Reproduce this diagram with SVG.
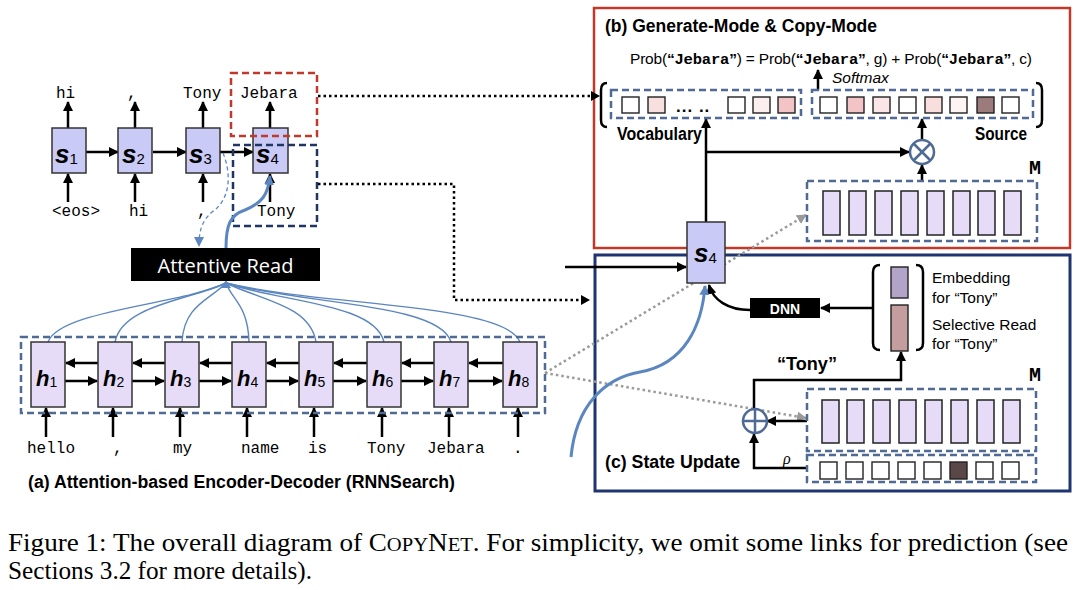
<svg xmlns="http://www.w3.org/2000/svg" width="1080" height="590" viewBox="0 0 1080 590">
<defs>
<marker id="ah" viewBox="0 0 10 10" refX="9" refY="5" markerWidth="10" markerHeight="10" markerUnits="userSpaceOnUse" orient="auto"><path d="M0,0 L10,5 L0,10 z" fill="#000"/></marker>
<marker id="ahb" viewBox="0 0 10 10" refX="9" refY="5" markerWidth="10" markerHeight="10" markerUnits="userSpaceOnUse" orient="auto"><path d="M0,0 L10,5 L0,10 z" fill="#5b86c0"/></marker>
<marker id="ahg" viewBox="0 0 10 10" refX="9" refY="5" markerWidth="10" markerHeight="10" markerUnits="userSpaceOnUse" orient="auto"><path d="M0,0 L10,5 L0,10 z" fill="#9a9a9a"/></marker>
<style>
.sbox{fill:#c9caf6;stroke:#333;stroke-width:1.5}
.hbox{fill:#e6dcf8;stroke:#333;stroke-width:1.5}
.mrect{fill:#e6dcf8;stroke:#222;stroke-width:1.5}
.sq{stroke:#222;stroke-width:1.4}
.dash{fill:none;stroke:#4f6a94;stroke-width:2.5;stroke-dasharray:7 4}
.arr{fill:none;stroke:#000;stroke-width:2.5;marker-end:url(#ah)}
.ln{fill:none;stroke:#000;stroke-width:2.5}
.dot{fill:none;stroke:#000;stroke-width:2.5;stroke-dasharray:2.5 3}
.gdot{fill:none;stroke:#9a9a9a;stroke-width:2.5;stroke-dasharray:2.5 3;marker-end:url(#ahg)}
.fan{fill:none;stroke:#5b86c0;stroke-width:1.4}
.mono{font-family:"Liberation Mono","DejaVu Sans Mono",monospace;font-size:16px;fill:#000}
.sym{font-family:"Liberation Sans",Arial,sans-serif;font-weight:bold;font-style:italic;fill:#000}
.sub{font-family:"Liberation Sans",Arial,sans-serif;font-weight:normal;font-style:normal}
.lab{font-family:"Liberation Sans",Arial,sans-serif;font-size:17.5px;font-weight:bold;fill:#000}
.txt{font-family:"Liberation Sans",Arial,sans-serif;font-size:15.5px;fill:#000}
.bigM{font-family:"Liberation Mono","DejaVu Sans Mono",monospace;font-size:20px;font-weight:bold;fill:#000}
</style>
</defs>
<rect width="1080" height="590" fill="#fff"/>

<!-- panel frames -->
<g id="panel-b">
<rect x="594" y="8" width="476" height="240" fill="none" stroke="#c0392b" stroke-width="2.5"/>
<text class="lab" x="605" y="32" textLength="272" lengthAdjust="spacingAndGlyphs">(b) Generate-Mode &amp; Copy-Mode</text>
</g>
<g id="panel-c">
<rect x="595" y="255" width="475" height="236" fill="none" stroke="#1f3570" stroke-width="3"/>
<text class="lab" x="605" y="468" textLength="135" lengthAdjust="spacingAndGlyphs">(c) State Update</text>
</g>

<!-- connectors -->
<g id="connectors">
<!-- decoder -->
<line class="arr" x1="86" y1="152" x2="118" y2="152"/>
<line class="arr" x1="153" y1="152" x2="186" y2="152"/>
<line class="arr" x1="220" y1="152" x2="253" y2="152"/>
<line class="arr" x1="68" y1="128" x2="68" y2="102"/>
<line class="arr" x1="135" y1="128" x2="135" y2="102"/>
<line class="arr" x1="203" y1="128" x2="203" y2="102"/>
<line class="arr" x1="270" y1="128" x2="270" y2="102"/>
<line class="arr" x1="68" y1="202" x2="68" y2="174"/>
<line class="arr" x1="135" y1="202" x2="135" y2="174"/>
<line class="arr" x1="203" y1="202" x2="203" y2="174"/>
<line class="arr" x1="270" y1="202" x2="270" y2="174"/>
<!-- encoder -->
<line class="arr" x1="98" y1="363" x2="66" y2="363"/><line class="arr" x1="65" y1="381" x2="97" y2="381"/>
<line class="arr" x1="165" y1="363" x2="133" y2="363"/><line class="arr" x1="132" y1="381" x2="164" y2="381"/>
<line class="arr" x1="232" y1="363" x2="200" y2="363"/><line class="arr" x1="199" y1="381" x2="231" y2="381"/>
<line class="arr" x1="299" y1="363" x2="267" y2="363"/><line class="arr" x1="266" y1="381" x2="298" y2="381"/>
<line class="arr" x1="367" y1="363" x2="334" y2="363"/><line class="arr" x1="333" y1="381" x2="366" y2="381"/>
<line class="arr" x1="434" y1="363" x2="402" y2="363"/><line class="arr" x1="401" y1="381" x2="433" y2="381"/>
<line class="arr" x1="503" y1="363" x2="469" y2="363"/><line class="arr" x1="468" y1="381" x2="502" y2="381"/>
<line class="arr" x1="46" y1="437" x2="46" y2="408"/>
<line class="arr" x1="113" y1="437" x2="113" y2="408"/>
<line class="arr" x1="180" y1="437" x2="180" y2="408"/>
<line class="arr" x1="247" y1="437" x2="247" y2="408"/>
<line class="arr" x1="314" y1="437" x2="314" y2="408"/>
<line class="arr" x1="382" y1="437" x2="382" y2="408"/>
<line class="arr" x1="449" y1="437" x2="449" y2="408"/>
<line class="arr" x1="518" y1="437" x2="518" y2="408"/>
<!-- attention fan -->
<path class="fan" d="M226,283 C 180,305 60,310 48,342"/>
<path class="fan" d="M226,283 C 190,300 122,305 115,342"/>
<path class="fan" d="M226,283 C 210,300 184,305 182,342"/>
<path class="fan" d="M226,283 C 232,300 248,305 249,342"/>
<path class="fan" d="M226,283 C 260,300 310,305 316,342"/>
<path class="fan" d="M226,283 C 280,302 375,303 384,342"/>
<path class="fan" d="M226,283 C 300,304 440,303 451,342"/>
<path class="fan" d="M226,283 C 320,306 505,303 520,342"/>
<path d="M221,288 L226,280 L231,288 z" fill="#5b86c0"/>
<!-- decoder to attentive read -->
<path d="M223,153 C 232,175 230,200 212,212 C 201,222 199,232 199,246" fill="none" stroke="#5b86c0" stroke-width="1.3" stroke-dasharray="4 3" marker-end="url(#ahb)"/>
<!-- dotted long connectors -->
<line class="dot" x1="318" y1="96" x2="592" y2="96"/>
<path d="M591,91 L600,96 L591,101 z" fill="#000"/>
<polyline class="dot" points="318,184 454,184 454,300 582,300"/>
<path d="M581,295 L590,300 L581,305 z" fill="#000"/>
<!-- grey dotted memory links -->
<line class="gdot" x1="545" y1="373" x2="806" y2="215"/>
<line class="gdot" x1="545" y1="373" x2="806" y2="418"/>
<!-- panel b -->
<line class="arr" x1="706" y1="222" x2="706" y2="119"/>
<line class="arr" x1="706" y1="152" x2="909" y2="152"/>
<line class="arr" x1="922" y1="181" x2="922" y2="165"/>
<line class="arr" x1="922" y1="140" x2="922" y2="119"/>
<line class="arr" x1="818" y1="90" x2="818" y2="70"/>
<!-- input to middle s4 -->
<line class="arr" x1="565" y1="267" x2="686" y2="267"/>
<!-- panel c -->
<line class="arr" x1="873" y1="308" x2="821" y2="308"/>
<path class="arr" d="M750,310 C 728,310 713,300 709,285"/>
<polyline class="arr" points="754,408 754,380 901,380 901,352"/>
<line class="arr" x1="807" y1="421" x2="767" y2="421"/>
<polyline class="arr" points="807,468 754,468 754,434"/>
</g>

<!-- decoder nodes -->
<g id="s1"><rect class="sbox" x="52" y="128" width="34" height="45"/><text class="sym" x="55" y="163" font-size="26">s<tspan class="sub" font-size="15" dy="1">1</tspan></text></g>
<g id="s2"><rect class="sbox" x="118" y="128" width="34" height="45"/><text class="sym" x="122" y="163" font-size="26">s<tspan class="sub" font-size="15" dy="1">2</tspan></text></g>
<g id="s3"><rect class="sbox" x="186" y="128" width="34" height="45"/><text class="sym" x="189" y="163" font-size="26">s<tspan class="sub" font-size="15" dy="1">3</tspan></text></g>
<g id="s4-dec"><rect class="sbox" x="253" y="128" width="35" height="45"/><text class="sym" x="256" y="163" font-size="26">s<tspan class="sub" font-size="15" dy="1">4</tspan></text></g>
<g id="dec-labels">
<text class="mono" x="56" y="98">hi</text>
<text class="mono" x="127" y="98">,</text>
<text class="mono" x="183" y="98">Tony</text>
<text class="mono" x="240" y="98">Jebara</text>
<text class="mono" x="52" y="216">&lt;eos&gt;</text>
<text class="mono" x="129" y="216">hi</text>
<text class="mono" x="197" y="216">,</text>
<text class="mono" x="257" y="216">Tony</text>
</g>
<g id="copy-box"><rect x="231" y="73" width="86" height="63" fill="none" stroke="#c0392b" stroke-width="2.5" stroke-dasharray="7 4"/></g>
<g id="update-box"><rect x="233" y="145" width="84" height="81" fill="none" stroke="#1f3564" stroke-width="2.5" stroke-dasharray="7 4"/></g>
<path d="M226,248 C 226,225 230,215 245,210 C 262,203 268,195 270,176" fill="none" stroke="#5b86c0" stroke-width="3" marker-end="url(#ahb)"/>

<!-- attentive read -->
<g id="attentive-read"><rect x="131" y="248" width="189" height="33" fill="#000"/><text x="225.5" y="273" text-anchor="middle" font-family="'Open Sans','Noto Sans',sans-serif" font-size="20" fill="#fff">Attentive Read</text></g>

<!-- encoder -->
<g id="encoder">
<rect class="dash" x="21" y="337" width="524" height="76"/>
<g id="h1"><rect class="hbox" x="31" y="342" width="34" height="65"/><text class="sym" x="36" y="386" font-size="22">h<tspan class="sub" font-size="14" dy="1">1</tspan></text></g>
<g id="h2"><rect class="hbox" x="98" y="342" width="34" height="65"/><text class="sym" x="103" y="386" font-size="22">h<tspan class="sub" font-size="14" dy="1">2</tspan></text></g>
<g id="h3"><rect class="hbox" x="165" y="342" width="34" height="65"/><text class="sym" x="170" y="386" font-size="22">h<tspan class="sub" font-size="14" dy="1">3</tspan></text></g>
<g id="h4"><rect class="hbox" x="232" y="342" width="34" height="65"/><text class="sym" x="237" y="386" font-size="22">h<tspan class="sub" font-size="14" dy="1">4</tspan></text></g>
<g id="h5"><rect class="hbox" x="299" y="342" width="34" height="65"/><text class="sym" x="304" y="386" font-size="22">h<tspan class="sub" font-size="14" dy="1">5</tspan></text></g>
<g id="h6"><rect class="hbox" x="367" y="342" width="34" height="65"/><text class="sym" x="372" y="386" font-size="22">h<tspan class="sub" font-size="14" dy="1">6</tspan></text></g>
<g id="h7"><rect class="hbox" x="434" y="342" width="34" height="65"/><text class="sym" x="439" y="386" font-size="22">h<tspan class="sub" font-size="14" dy="1">7</tspan></text></g>
<g id="h8"><rect class="hbox" x="503" y="342" width="34" height="65"/><text class="sym" x="508" y="386" font-size="22">h<tspan class="sub" font-size="14" dy="1">8</tspan></text></g>
</g>
<g id="enc-labels">
<text class="mono" x="27" y="453">hello</text>
<text class="mono" x="113" y="453">,</text>
<text class="mono" x="173" y="453">my</text>
<text class="mono" x="241" y="453">name</text>
<text class="mono" x="308" y="453">is</text>
<text class="mono" x="367" y="453">Tony</text>
<text class="mono" x="427" y="453">Jebara</text>
<text class="mono" x="513" y="453">.</text>
</g>
<text class="lab" x="28" y="488" textLength="427" lengthAdjust="spacingAndGlyphs">(a) Attention-based Encoder-Decoder (RNNSearch)</text>

<!-- panel b content -->
<g id="prob">
<text class="txt" x="630" y="64" font-size="15.5" textLength="402">Prob(<tspan font-weight="bold">“</tspan><tspan font-family="'Liberation Mono',monospace" font-weight="bold">Jebara</tspan><tspan font-weight="bold">”</tspan>) = Prob(<tspan font-weight="bold">“</tspan><tspan font-family="'Liberation Mono',monospace" font-weight="bold">Jebara</tspan><tspan font-weight="bold">”</tspan>, g) + Prob(<tspan font-weight="bold">“</tspan><tspan font-family="'Liberation Mono',monospace" font-weight="bold">Jebara</tspan><tspan font-weight="bold">”</tspan>, c)</text>
<text class="txt" x="832" y="83" font-size="14" font-style="italic">Softmax</text>
</g>
<g id="brackets-b" fill="none" stroke="#000" stroke-width="2.5">
<path d="M607,83 Q601,83 601,90 L601,120 Q601,127 607,127"/>
<path d="M1036,83 Q1042,83 1042,90 L1042,120 Q1042,127 1036,127"/>
</g>
<g id="vocabulary">
<rect class="dash" x="611" y="90" width="190" height="28"/>
<rect class="sq" x="622" y="97" width="17" height="16" fill="#fff"/>
<rect class="sq" x="648" y="97" width="17" height="16" fill="#f9e0e0"/>
<text x="676" y="112" font-family="'Liberation Sans',sans-serif" font-size="17" font-weight="bold" letter-spacing="1">... ..</text>
<rect class="sq" x="728" y="97" width="17" height="16" fill="#fff"/>
<rect class="sq" x="753" y="97" width="17" height="16" fill="#fbeeee"/>
<rect class="sq" x="778" y="97" width="17" height="16" fill="#f2c4c6"/>
<text class="lab" x="617" y="140" font-size="15.5" textLength="85" lengthAdjust="spacingAndGlyphs">Vocabulary</text>
</g>
<g id="source">
<rect class="dash" x="812" y="90" width="221" height="28"/>
<rect class="sq" x="820" y="97" width="17" height="16" fill="#fff"/>
<rect class="sq" x="847" y="97" width="17" height="16" fill="#f2c4c6"/>
<rect class="sq" x="873" y="97" width="17" height="16" fill="#fae6e6"/>
<rect class="sq" x="899" y="97" width="17" height="16" fill="#fff"/>
<rect class="sq" x="925" y="97" width="17" height="16" fill="#f9dede"/>
<rect class="sq" x="950" y="97" width="17" height="16" fill="#fdf4f4"/>
<rect class="sq" x="977" y="97" width="17" height="16" fill="#9b7b7c"/>
<rect class="sq" x="1002" y="97" width="17" height="16" fill="#fff"/>
<text class="lab" x="975" y="140" font-size="15.5" textLength="52" lengthAdjust="spacingAndGlyphs">Source</text>
</g>
<g id="otimes" fill="none" stroke="#4f6a94" stroke-width="2.5">
<circle cx="922" cy="152" r="12" fill="#fff"/>
<line x1="913.5" y1="143.5" x2="930.5" y2="160.5"/>
<line x1="930.5" y1="143.5" x2="913.5" y2="160.5"/>
</g>
<g id="memory-b">
<text class="bigM" x="1029" y="174">M</text>
<rect class="dash" x="807" y="181" width="230" height="60"/>
<rect class="mrect" x="823" y="191" width="17" height="44"/>
<rect class="mrect" x="849" y="191" width="17" height="44"/>
<rect class="mrect" x="875" y="191" width="17" height="44"/>
<rect class="mrect" x="901" y="191" width="17" height="44"/>
<rect class="mrect" x="927" y="191" width="17" height="44"/>
<rect class="mrect" x="953" y="191" width="17" height="44"/>
<rect class="mrect" x="978" y="191" width="17" height="44"/>
<rect class="mrect" x="1004" y="191" width="17" height="44"/>
</g>

<!-- middle s4 -->
<g id="s4"><rect class="sbox" x="687" y="222" width="38" height="61"/><text class="sym" x="694" y="262" font-size="26">s<tspan class="sub" font-size="15" dy="1">4</tspan></text></g>
<path d="M571,457 C 576,405 605,378 640,372 C 685,364 702,325 705,286" fill="none" stroke="#5b86c0" stroke-width="3" marker-end="url(#ahb)"/>

<!-- panel c content -->
<g id="dnn"><rect x="750" y="298" width="70" height="20" fill="#000"/><text x="785" y="313.5" text-anchor="middle" font-family="'Liberation Sans',sans-serif" font-size="14" font-weight="bold" fill="#fff">DNN</text></g>
<g id="concat">
<path d="M880,265 Q873,265 873,272 L873,343 Q873,350 880,350" fill="none" stroke="#000" stroke-width="2.5"/>
<path d="M916,265 Q923,265 923,272 L923,343 Q923,350 916,350" fill="none" stroke="#000" stroke-width="2.5"/>
<rect x="891" y="267" width="17" height="31" fill="#b2a4c8" stroke="#222" stroke-width="1.4"/>
<rect x="891" y="305" width="17" height="46" fill="#c49d9e" stroke="#222" stroke-width="1.4"/>
<text class="txt" x="932" y="283">Embedding</text>
<text class="txt" x="932" y="303">for “Tony”</text>
<text class="txt" x="932" y="330">Selective Read</text>
<text class="txt" x="932" y="349">for “Tony”</text>
</g>
<text class="lab" x="777" y="370" textLength="60" lengthAdjust="spacingAndGlyphs">“Tony”</text>
<g id="oplus" fill="none" stroke="#4f6a94" stroke-width="2.5">
<circle cx="755" cy="421" r="12" fill="#fff"/>
<line x1="743" y1="421" x2="767" y2="421"/>
<line x1="755" y1="409" x2="755" y2="433"/>
</g>
<text x="783" y="464" font-family="'Liberation Serif',serif" font-size="16" font-style="italic">ρ</text>
<g id="memory-c">
<text class="bigM" x="1029" y="381">M</text>
<rect class="dash" x="807" y="389" width="229" height="62"/>
<rect class="mrect" x="822" y="400" width="17" height="43"/>
<rect class="mrect" x="847" y="400" width="17" height="43"/>
<rect class="mrect" x="873" y="400" width="17" height="43"/>
<rect class="mrect" x="899" y="400" width="17" height="43"/>
<rect class="mrect" x="925" y="400" width="17" height="43"/>
<rect class="mrect" x="951" y="400" width="17" height="43"/>
<rect class="mrect" x="977" y="400" width="17" height="43"/>
<rect class="mrect" x="1003" y="400" width="17" height="43"/>
</g>
<g id="rho">
<rect class="dash" x="807" y="455" width="229" height="27"/>
<rect class="sq" x="820" y="462" width="17" height="17" fill="#fff"/>
<rect class="sq" x="846" y="462" width="17" height="17" fill="#fff"/>
<rect class="sq" x="872" y="462" width="17" height="17" fill="#fff"/>
<rect class="sq" x="898" y="462" width="17" height="17" fill="#fff"/>
<rect class="sq" x="924" y="462" width="17" height="17" fill="#fff"/>
<rect class="sq" x="950" y="462" width="17" height="17" fill="#5a4848"/>
<rect class="sq" x="976" y="462" width="17" height="17" fill="#fff"/>
<rect class="sq" x="1002" y="462" width="17" height="17" fill="#fff"/>
</g>

<!-- caption -->
<g id="caption" font-family="'Liberation Serif','Times New Roman',serif" font-size="25" fill="#000">
<text x="8" y="551" textLength="1060" lengthAdjust="spacingAndGlyphs">Figure 1:  The overall diagram of C<tspan font-size="19">OPY</tspan>N<tspan font-size="19">ET</tspan>.  For simplicity, we omit some links for prediction (see</text>
<text x="8" y="579" textLength="304" lengthAdjust="spacingAndGlyphs">Sections 3.2 for more details).</text>
</g>
</svg>
